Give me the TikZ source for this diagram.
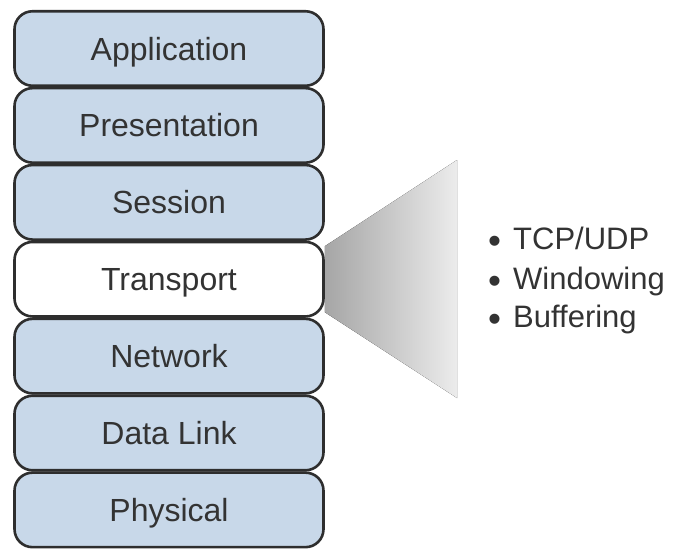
\documentclass[tikz,border=0pt]{standalone}
\usepackage{fontspec}
\setmainfont{Liberation Sans}
\usetikzlibrary{positioning,calc,backgrounds}
\definecolor{layerfill}{HTML}{C8D8E9}
\definecolor{edge}{HTML}{2E2E2E}
\definecolor{ink}{HTML}{333333}
\newcommand\dotmark{\makebox[25pt][l]{\raisebox{-4.5pt}{\fontsize{37}{37}\selectfont\textbullet}}}
\tikzset{layerbox/.style={draw=edge,fill=layerfill,rounded corners=18pt,line width=2.6pt,
 minimum width=309pt,minimum height=74.5pt,inner sep=0pt,text height=23pt,text depth=0pt,
 font=\fontsize{32}{38}\selectfont,text=ink},
 fanshade/.style={left color=gray!70,right color=gray!15,draw=none}}
\begin{document}
\begin{tikzpicture}[x=1pt,y=-1pt,li/.style={anchor=base west,inner sep=0pt,font=\fontsize{31}{38}\selectfont,text=ink}]
\useasboundingbox (0,0) rectangle (677,550);
\node[layerbox] (app) at (169,48.5) {Application};
\node[layerbox] (pres) at (169,125.4) {Presentation};
\node[layerbox] (sess) at (169,202.3) {Session};
\node[layerbox,fill=white] (trans) at (169,279.2) {Transport};
\node[layerbox] (net) at (169,356.1) {Network};
\node[layerbox] (dlink) at (169,433) {Data Link};
\node[layerbox] (phys) at (169,509.9) {Physical};
% transport details
\node[li] (tcp) at (488,249) {\dotmark TCP/UDP};
\node[li] (win) at (488,289) {\dotmark Windowing};
\node[li] (buf) at (488,327) {\dotmark Buffering};
\coordinate (fantop) at (457,160);
\coordinate (fanbot) at (457,398);
\begin{scope}[on background layer]
\fill[fanshade] ($(trans.east)+(0,-33)$) -- (fantop) -- (fanbot) -- ($(trans.east)+(0,33)$) -- cycle;
\end{scope}
\end{tikzpicture}
\end{document}
